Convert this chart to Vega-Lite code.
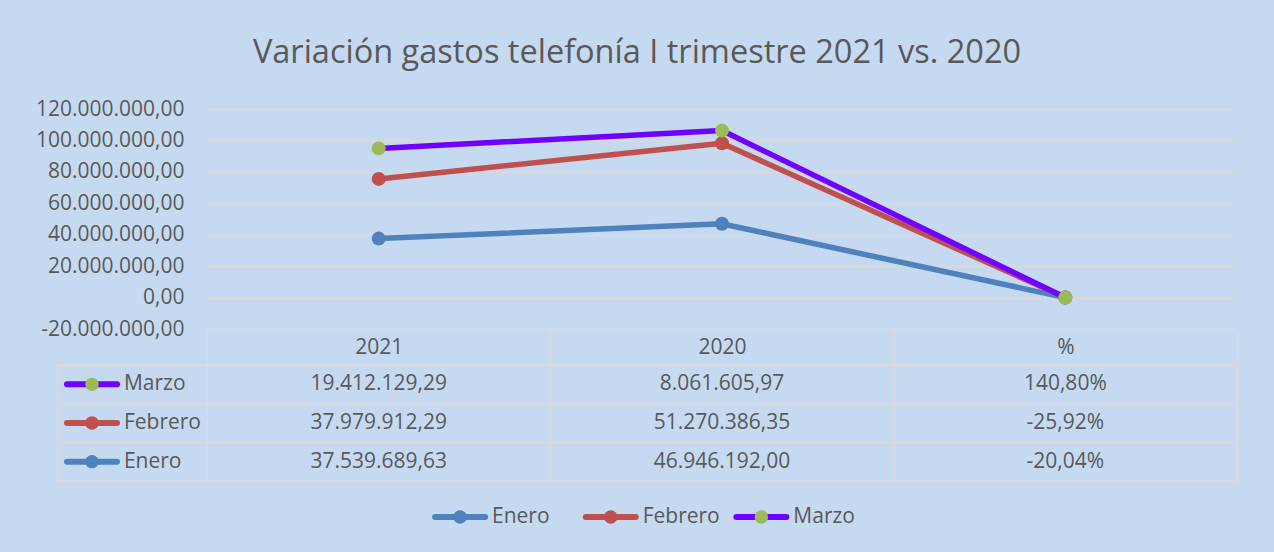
{
  "$schema": "https://vega.github.io/schema/vega-lite/v6.json",
  "background": "#c5d9f1",
  "padding": {"left": 35, "top": 36, "right": 35, "bottom": 18},
  "config": {
    "locale": {"number": {"decimal": ",", "thousands": ".", "grouping": [3], "currency": ["", " €"], "minus": "-"}},
    "font": "Open Sans",
    "view": {"stroke": null},
    "axis": {"labelFont": "Open Sans", "labelFontSize": 21, "labelColor": "#595959"},
    "text": {"font": "Open Sans", "fontSize": 21, "color": "#595959"}
  },
  "title": {"text": "Variación gastos telefonía I trimestre 2021 vs. 2020", "font": "Open Sans", "fontSize": 32.5, "fontWeight": "normal", "color": "#595959", "anchor": "middle", "offset": 29},
  "datasets": {
    "gastos": [
      {"mes": "Enero", "col": "2021", "valor": 37539689.63},
      {"mes": "Enero", "col": "2020", "valor": 46946192.00},
      {"mes": "Enero", "col": "%", "valor": -0.2004},
      {"mes": "Febrero", "col": "2021", "valor": 37979912.29},
      {"mes": "Febrero", "col": "2020", "valor": 51270386.35},
      {"mes": "Febrero", "col": "%", "valor": -0.2592},
      {"mes": "Marzo", "col": "2021", "valor": 19412129.29},
      {"mes": "Marzo", "col": "2020", "valor": 8061605.97},
      {"mes": "Marzo", "col": "%", "valor": 1.408}
    ]
  },
  "bounds": "flush",
  "spacing": 36,
  "resolve": {"scale": {"x": "independent", "y": "independent", "color": "independent", "fill": "independent", "stroke": "independent"}},
  "vconcat": [
    {
      "width": 1179,
      "height": 220,
      "data": {"name": "gastos"},
      "encoding": {
        "x": {"field": "col", "type": "nominal", "bandPosition": 0.5, "scale": {"type": "band", "domain": ["2021", "2020", "%"], "paddingInner": 0, "paddingOuter": 0.217, "align": 1}, "axis": null},
        "y": {"field": "valor", "type": "quantitative", "stack": "zero", "scale": {"domain": [-20000000, 120000000], "nice": false, "zero": false},
          "axis": {"values": [-20000000, 0, 20000000, 40000000, 60000000, 80000000, 100000000, 120000000], "format": ",.2f", "offset": -149, "ticks": false, "domain": false, "labelPadding": 23, "grid": true, "gridColor": "#d9d9d9", "gridWidth": 1.5, "gridDash": [0, 149, 1030, 200], "title": null}},
        "order": {"field": "mes", "type": "ordinal"}
      },
      "layer": [
        {"mark": {"type": "line", "strokeWidth": 5.5, "strokeJoin": "round"},
          "encoding": {"stroke": {"field": "mes", "type": "nominal", "scale": {"domain": ["Enero", "Febrero", "Marzo"], "range": ["#4f81bd", "#c0504d", "#7000ff"]}, "legend": null}}},
        {"mark": {"type": "point", "filled": true, "size": 195, "opacity": 1},
          "encoding": {"fill": {"field": "mes", "type": "nominal", "scale": {"domain": ["Enero", "Febrero", "Marzo"], "range": ["#4f81bd", "#c0504d", "#9bbb59"]}, "legend": null}}}
      ]
    },
    {
      "bounds": "flush",
      "center": true,
      "spacing": 18,
      "resolve": {"scale": {"x": "independent", "y": "independent", "color": "independent", "fill": "independent", "stroke": "independent"}},
      "vconcat": [
        {
          "width": 1179,
          "height": 116,
          "view": {"stroke": "#d9d9d9", "strokeWidth": 1.5},
          "data": {"name": "gastos"},
          "encoding": {
            "x": {"field": "col", "type": "nominal", "bandPosition": 0.5, "scale": {"type": "band", "domain": ["2021", "2020", "%"], "paddingInner": 0, "paddingOuter": 0.217, "align": 1},
              "axis": {"orient": "top", "tickBand": "extent", "ticks": true, "tickSize": 36, "tickColor": "#d9d9d9", "tickWidth": 1.5, "grid": true, "gridColor": "#d9d9d9", "gridWidth": 1.5, "domain": false, "labelPadding": -18, "labelBaseline": "middle", "labelAngle": 0, "title": null}},
            "y": {"field": "mes", "type": "nominal", "bandPosition": 0.5, "scale": {"type": "band", "domain": ["Marzo", "Febrero", "Enero"], "paddingInner": 0, "paddingOuter": 0},
              "axis": {"orient": "left", "tickBand": "extent", "grid": true, "gridColor": "#d9d9d9", "gridWidth": 1.5, "labels": false, "ticks": false, "domain": false, "title": null}}
          },
          "layer": [
            {"transform": [{"filter": "datum.col !== '%'"}],
              "mark": {"type": "text", "baseline": "middle", "align": "center"},
              "encoding": {"text": {"field": "valor", "type": "quantitative", "format": ",.2f"}}},
            {"transform": [{"filter": "datum.col === '%'"}],
              "mark": {"type": "text", "baseline": "middle", "align": "center"},
              "encoding": {"text": {"field": "valor", "type": "quantitative", "format": ".2%"}}},
            {"transform": [{"filter": "datum.col === '2021'"}],
              "mark": {"type": "point", "shape": "M-1,0L1,0", "size": 2500, "strokeWidth": 6, "strokeCap": "round", "filled": false, "opacity": 1},
              "encoding": {"x": {"field": "col", "type": "nominal", "bandPosition": -0.335},
                "stroke": {"field": "mes", "type": "nominal", "scale": {"domain": ["Enero", "Febrero", "Marzo"], "range": ["#4f81bd", "#c0504d", "#7000ff"]}, "legend": null}}},
            {"transform": [{"filter": "datum.col === '2021'"}],
              "mark": {"type": "point", "filled": true, "size": 180, "opacity": 1},
              "encoding": {"x": {"field": "col", "type": "nominal", "bandPosition": -0.335},
                "fill": {"field": "mes", "type": "nominal", "scale": {"domain": ["Enero", "Febrero", "Marzo"], "range": ["#4f81bd", "#c0504d", "#9bbb59"]}, "legend": null}}},
            {"transform": [{"filter": "datum.col === '2021'"}],
              "mark": {"type": "text", "baseline": "middle", "align": "left"},
              "encoding": {"x": {"field": "col", "type": "nominal", "bandPosition": -0.242},
                "text": {"field": "mes", "type": "nominal"}}}
          ]
        },
        {
          "width": 452,
          "height": 36,
          "data": {"name": "gastos"},
          "transform": [{"filter": "datum.col === '2021'"}],
          "encoding": {
            "x": {"field": "mes", "type": "nominal", "scale": {"type": "band", "domain": ["Enero", "Febrero", "Marzo"], "paddingInner": 0, "paddingOuter": 0}, "axis": null}
          },
          "layer": [
            {"mark": {"type": "point", "shape": "M-1,0L1,0", "size": 2500, "strokeWidth": 6, "strokeCap": "round", "filled": false, "opacity": 1},
              "encoding": {"x": {"field": "mes", "type": "nominal", "bandPosition": 0.256},
                "stroke": {"field": "mes", "type": "nominal", "scale": {"domain": ["Enero", "Febrero", "Marzo"], "range": ["#4f81bd", "#c0504d", "#7000ff"]}, "legend": null}}},
            {"mark": {"type": "point", "filled": true, "size": 180, "opacity": 1},
              "encoding": {"x": {"field": "mes", "type": "nominal", "bandPosition": 0.256},
                "fill": {"field": "mes", "type": "nominal", "scale": {"domain": ["Enero", "Febrero", "Marzo"], "range": ["#4f81bd", "#c0504d", "#9bbb59"]}, "legend": null}}},
            {"mark": {"type": "text", "baseline": "middle", "align": "left"},
              "encoding": {"x": {"field": "mes", "type": "nominal", "bandPosition": 0.468},
                "text": {"field": "mes", "type": "nominal"}}}
          ]
        }
      ]
    }
  ]
}
